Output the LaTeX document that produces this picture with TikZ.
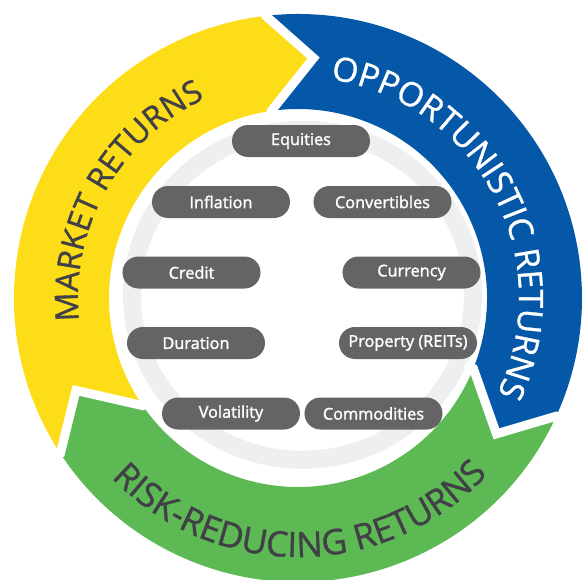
\documentclass[tikz,border=0pt]{standalone}
\usepackage{fontspec}
\setmainfont{Open Sans}
\newfontfamily\pillfont{Open Sans}[FakeBold=1.6]
\newfontfamily\arcfont{Open Sans}[FakeBold=1.0]
\usetikzlibrary{decorations.text}
\definecolor{myyellow}{RGB}{253,220,24}
\definecolor{myblue}{RGB}{5,88,168}
\definecolor{mygreen}{RGB}{93,185,84}
\definecolor{pillgray}{RGB}{100,100,103}
\definecolor{ringgray}{RGB}{238,239,241}
\definecolor{arcdark}{RGB}{64,64,70}
\tikzset{
  pill/.style={fill=pillgray, rounded corners=16pt, minimum width=138pt, minimum height=32pt,
    inner sep=0pt, text=white, font=\pillfont\fontsize{16.3}{17}\selectfont},
  gapline/.style={draw=white, line width=9pt, line join=miter, miter limit=10},
  arctext/.style={decorate, decoration={text along path, text align=center, text color=#1}}
}
\newcommand\arcfnt{\arcfont\fontsize{32}{32}\selectfont}
\newcommand\arcfntb{\arcfont\fontsize{33.5}{33}\selectfont}
\newcommand\arcfntg{\arcfont\fontsize{35}{35}\selectfont}
\begin{document}
\begin{tikzpicture}[x=1pt,y=1pt]
\useasboundingbox (-298,-281) rectangle (286,298);
\fill[white] (-298,-281) rectangle (286,298);
\def\Ro{284pt}\def\Rm{240.5pt}\def\Ri{189pt}
% light gray inner ring
\draw[ringgray, line width=18pt] (4.5,3.25) ellipse [x radius=170.5pt, y radius=165pt];
% yellow segment (market returns)
\fill[myyellow] (213.2:\Ro) arc[start angle=213.2, end angle=96.5, radius=\Ro]
  -- (86.3:\Rm) -- (98.1:\Ri) arc[start angle=98.1, end angle=214.7, radius=\Ri]
  -- (202.6:\Rm) -- cycle;
% blue segment (opportunistic returns)
\fill[myblue] (96.5:\Ro) arc[start angle=96.5, end angle=-24.6, radius=\Ro]
  -- (-34.4:\Rm) -- (-21.9:\Ri) arc[start angle=-21.9, end angle=98.1, radius=\Ri]
  -- (86.3:\Rm) -- cycle;
% green segment (risk-reducing returns)
\fill[mygreen] (-24.6:\Ro) arc[start angle=-24.6, end angle=-146.8, radius=\Ro]
  -- (-157.4:\Rm) -- (-145.3:\Ri) arc[start angle=-145.3, end angle=-21.9, radius=\Ri]
  -- (-34.4:\Rm) -- cycle;
% white gaps between segments
\draw[gapline] (96.5:295pt) -- (96.5:\Ro) -- (86.3:\Rm) -- (98.1:\Ri) -- (98.1:180pt);
\draw[gapline] (-24.6:295pt) -- (-24.6:\Ro) -- (-34.4:\Rm) -- (-21.9:\Ri) -- (-21.9:180pt);
\draw[gapline] (-146.8:295pt) -- (-146.8:\Ro) -- (-157.4:\Rm) -- (-145.3:\Ri) -- (-145.3:180pt);
% curved labels
\path[arctext=arcdark, decoration={text={|\arcfnt|MARKET RETURNS}}]
  (210.5:220pt) arc[start angle=210.5, end angle=90.5, radius=220pt];
\path[arctext=white, decoration={text={|\arcfntb|OPPORTUNISTIC RETURNS}}]
  (88:221pt) arc[start angle=88, end angle=-32, radius=221pt];
\path[arctext=arcdark, decoration={text={|\arcfntg|RISK-REDUCING RETURNS}}]
  (210:259pt) arc[start angle=210, end angle=331, radius=259pt];
% pills
\node[pill] (equities) at (3,157) {Equities};
\node[pill] (inflation) at (-77,96) {Inflation};
\node[pill] (convertibles) at (84.5,96) {Convertibles};
\node[pill] (credit) at (-106.5,25.5) {Credit};
\node[pill] (currency) at (113.5,25.5) {Currency};
\node[pill] (duration) at (-102,-45) {Duration};
\node[pill] (property) at (110,-45) {Property (REITs)};
\node[pill] (volatility) at (-67,-115.5) {Volatility};
\node[pill] (commodities) at (75.5,-115.5) {Commodities};
\end{tikzpicture}
\end{document}
